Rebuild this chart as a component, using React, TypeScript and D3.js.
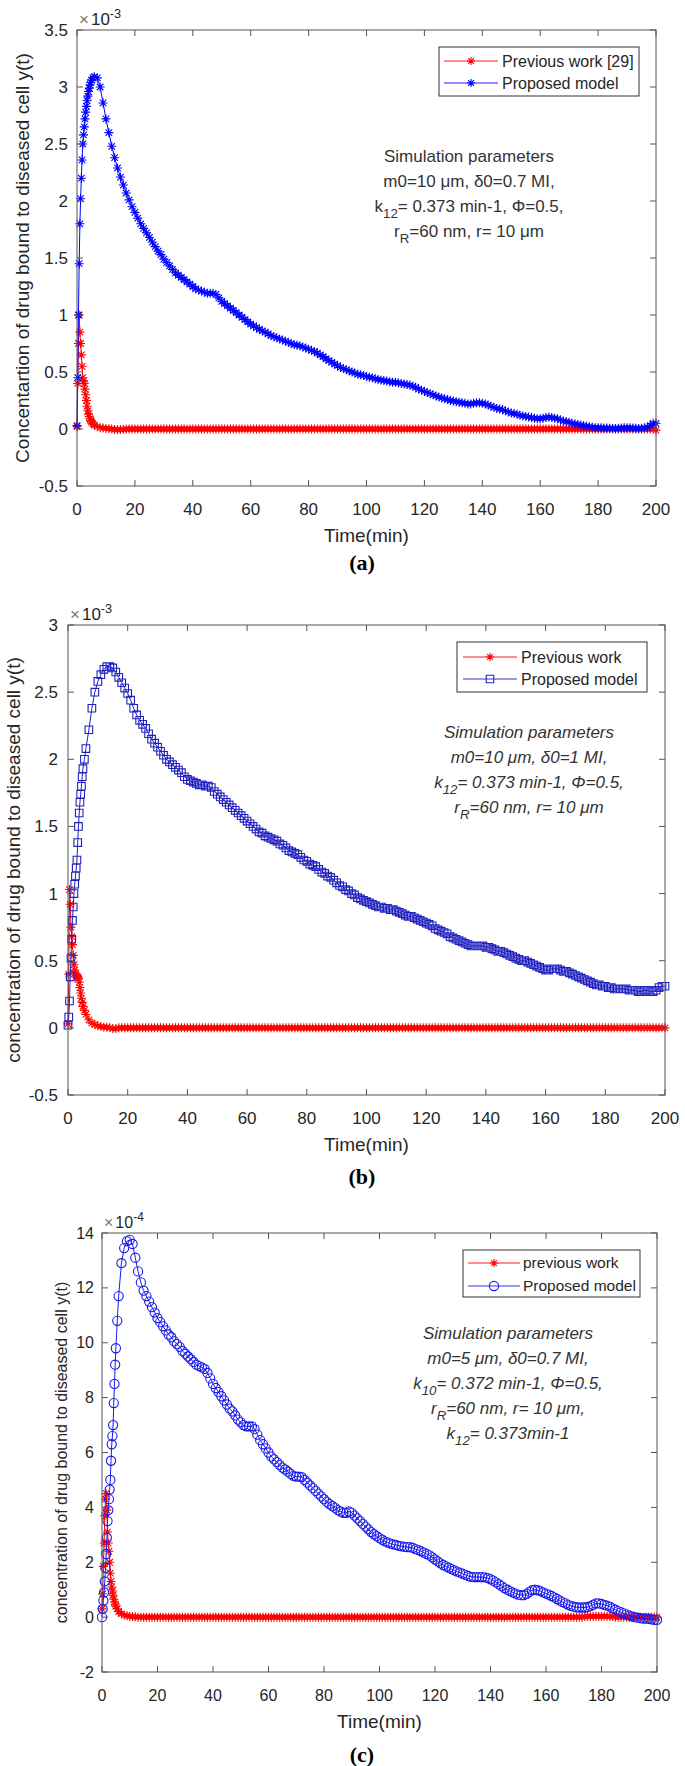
import React from 'react';
import * as d3 from 'd3';

// sample times (min)
const TIME = [0,0.25,0.5,0.75,1,1.25,1.5,1.75,2,2.25,2.5,2.75,3,3.25,3.5,3.75,4,4.25,4.5,4.75,5,5.5,
6,7,8,9,10,
11,12,13,14,15,16,17,18,19,20,
21,22,23,24,25,26,27,28,29,30,
31,32,33,34,35,36,37,38,39,40,
41,42,43,44,45,46,47,48,49,50,
51,52,53,54,55,56,57,58,59,60,
61,62,63,64,65,66,67,68,69,70,
71,72,73,74,75,76,77,78,79,80,
81,82,83,84,85,86,87,88,89,90,
91,92,93,94,95,96,97,98,99,100,
101,102,103,104,105,106,107,108,109,110,
111,112,113,114,115,116,117,118,119,120,
121,122,123,124,125,126,127,128,129,130,
131,132,133,134,135,136,137,138,139,140,
141,142,143,144,145,146,147,148,149,150,
151,152,153,154,155,156,157,158,159,160,
161,162,163,164,165,166,167,168,169,170,
171,172,173,174,175,176,177,178,179,180,
181,182,183,184,185,186,187,188,189,190,
191,192,193,194,195,196,197,198,199,200];

const X_TICKS = [0,20,40,60,80,100,120,140,160,180,200];
const A_Y_TICKS = [-0.5,0,0.5,1,1.5,2,2.5,3,3.5];
const B_Y_TICKS = [-0.5,0,0.5,1,1.5,2,2.5,3];
const C_Y_TICKS = [-2,0,2,4,6,8,10,12,14];

// Panel (a), values x 1e-3
const A_PROP = [0.03,0.45,1.0,1.45,1.8,2.02,2.2,2.36,2.5,2.58,2.65,2.72,2.78,2.83,2.88,2.92,2.96,2.99,3.02,3.04,3.06,3.08,
3.09,3.08,3.0,2.86,2.72,
2.6,2.48,2.38,2.29,2.21,2.14,2.07,2.01,1.95,1.9,
1.85,1.8,1.76,1.72,1.68,1.64,1.6,1.56,1.53,1.49,
1.46,1.43,1.4,1.37,1.35,1.33,1.31,1.29,1.27,1.25,
1.23,1.22,1.21,1.2,1.19,1.19,1.19,1.18,1.15,1.12,
1.1,1.08,1.06,1.04,1.02,1.0,0.98,0.96,0.94,0.92,
0.905,0.89,0.875,0.86,0.85,0.835,0.82,0.81,0.8,0.79,
0.78,0.77,0.76,0.75,0.74,0.735,0.73,0.72,0.71,0.7,
0.69,0.68,0.665,0.65,0.635,0.615,0.6,0.585,0.57,0.555,
0.54,0.53,0.52,0.51,0.5,0.49,0.48,0.475,0.47,0.46,
0.455,0.45,0.44,0.435,0.43,0.425,0.42,0.415,0.41,0.41,
0.405,0.4,0.395,0.39,0.385,0.375,0.365,0.35,0.34,0.33,
0.32,0.31,0.3,0.29,0.28,0.272,0.265,0.258,0.25,0.245,
0.24,0.235,0.23,0.225,0.22,0.22,0.225,0.23,0.23,0.225,
0.22,0.21,0.2,0.19,0.18,0.175,0.17,0.16,0.15,0.14,
0.135,0.13,0.12,0.115,0.11,0.105,0.1,0.095,0.09,0.09,
0.095,0.1,0.105,0.1,0.095,0.09,0.08,0.07,0.065,0.06,
0.05,0.045,0.04,0.035,0.03,0.025,0.02,0.015,0.012,0.01,
0.01,0.008,0.008,0.006,0.005,0.005,0.006,0.008,0.01,0.01,
0.01,0.008,0.006,0.005,0.006,0.01,0.015,0.03,0.05,0.05];

const A_PREV = [0.02,0.4,0.75,1.0,0.85,0.75,0.65,0.55,0.45,0.42,0.4,0.35,0.3,0.25,0.2,0.16,0.13,0.11,0.09,0.075,0.06,0.045,
0.035,0.02,0.012,0.008,0.005,
0.003,0,-0.005,-0.005,-0.005,-0.003,0,0,0,0,
0,0,0,0,0,0,0,0,0,0,
0,0,0,0,0,0,0,0,0,0,
0,0,0,0,0,0,0,0,0,0,
0,0,0,0,0,0,0,0,0,0,
0,0,0,0,0,0,0,0,0,0,
0,0,0,0,0,0,0,0,0,0,
0,0,0,0,0,0,0,0,0,0,
0,0,0,0,0,0,0,0,0,0,
0,0,0,0,0,0,0,0,0,0,
0,0,0,0,0,0,0,0,0,0,
0,0,0,0,0,0,0,0,0,0,
0,0,0,0,0,0,0,0,0,0,
0,0,0,0,0,0,0,0,0,0,
0,0,0,0,0,0,0,0,0,0,
0,0,0,0,0,0,0,0,0,0,
0,0,0,0,0,0,0,0,0,0,
0,0,0,0,0,0,0,0,0,0,
0,0,0,0,0,0,0,0,0,-0.01];

// Panel (b), values x 1e-3
const B_PROP = [0.02,0.08,0.2,0.38,0.52,0.66,0.8,0.9,1.0,1.07,1.13,1.19,1.25,1.38,1.5,1.6,1.68,1.74,1.8,1.87,1.93,2.0,
2.08,2.22,2.38,2.5,2.58,
2.63,2.67,2.69,2.69,2.68,2.65,2.61,2.57,2.53,2.49,
2.44,2.38,2.33,2.29,2.26,2.23,2.19,2.15,2.12,2.09,
2.06,2.03,2.0,1.98,1.96,1.94,1.92,1.9,1.87,1.85,
1.84,1.83,1.82,1.81,1.81,1.8,1.8,1.79,1.76,1.74,
1.72,1.7,1.68,1.66,1.64,1.62,1.6,1.58,1.56,1.54,
1.52,1.5,1.48,1.46,1.45,1.43,1.42,1.41,1.4,1.39,
1.37,1.36,1.34,1.32,1.31,1.3,1.29,1.27,1.25,1.24,
1.22,1.21,1.2,1.18,1.16,1.15,1.13,1.12,1.1,1.08,
1.06,1.05,1.03,1.02,1.0,0.99,0.97,0.96,0.95,0.94,
0.93,0.92,0.91,0.9,0.9,0.89,0.89,0.88,0.88,0.87,
0.86,0.85,0.84,0.83,0.83,0.82,0.81,0.8,0.79,0.78,
0.77,0.76,0.74,0.73,0.72,0.71,0.7,0.68,0.67,0.66,
0.65,0.64,0.63,0.62,0.61,0.61,0.61,0.61,0.61,0.6,
0.6,0.59,0.58,0.57,0.57,0.56,0.55,0.54,0.53,0.52,
0.51,0.5,0.5,0.49,0.48,0.47,0.46,0.45,0.44,0.43,
0.43,0.44,0.44,0.44,0.43,0.42,0.42,0.41,0.4,0.39,
0.38,0.37,0.36,0.35,0.34,0.33,0.32,0.32,0.31,0.31,
0.3,0.3,0.29,0.29,0.29,0.29,0.29,0.28,0.28,0.28,
0.27,0.27,0.28,0.28,0.27,0.27,0.28,0.3,0.31,0.31];

const B_PREV = [0.03,0.4,1.03,0.92,0.75,0.68,0.62,0.54,0.47,0.43,0.4,0.39,0.38,0.38,0.37,0.34,0.3,0.26,0.22,0.19,0.16,0.13,
0.1,0.06,0.035,0.025,0.015,
0.01,0.005,0.005,0,-0.005,-0.005,0,0,0,0,
0,0,0,0,0,0,0,0,0,0,
0,0,0,0,0,0,0,0,0,0,
0,0,0,0,0,0,0,0,0,0,
0,0,0,0,0,0,0,0,0,0,
0,0,0,0,0,0,0,0,0,0,
0,0,0,0,0,0,0,0,0,0,
0,0,0,0,0,0,0,0,0,0,
0,0,0,0,0,0,0,0,0,0,
0,0,0,0,0,0,0,0,0,0,
0,0,0,0,0,0,0,0,0,0,
0,0,0,0,0,0,0,0,0,0,
0,0,0,0,0,0,0,0,0,0,
0,0,0,0,0,0,0,0,0,0,
0,0,0,0,0,0,0,0,0,0,
0,0,0,0,0,0,0,0,0,0,
0,0,0,0,0,0,0,0,0,0,
0,0,0,0,0,0,0,0,0,0,
0,0,0,0,0,0,0,0,0,0];

// Panel (c), values x 1e-4
const C_PROP = [0.0,0.3,0.6,0.9,1.3,1.8,2.3,2.9,3.5,3.9,4.3,4.65,5.0,5.7,6.3,6.6,7.0,7.8,8.5,9.2,9.8,10.8,
11.7,12.9,13.45,13.7,13.75,
13.6,13.1,12.6,12.2,11.9,11.7,11.5,11.3,11.1,10.9,
10.75,10.6,10.45,10.3,10.2,10.05,9.95,9.85,9.7,9.6,
9.5,9.4,9.3,9.2,9.15,9.1,9.05,8.9,8.7,8.5,
8.35,8.2,8.05,7.9,7.75,7.6,7.5,7.35,7.2,7.1,
7.0,6.95,6.95,6.95,6.85,6.65,6.45,6.3,6.15,6.0,
5.85,5.75,5.65,5.55,5.45,5.38,5.3,5.22,5.15,5.12,
5.12,5.1,5.0,4.9,4.8,4.7,4.6,4.5,4.4,4.3,
4.2,4.12,4.05,3.98,3.9,3.85,3.8,3.8,3.85,3.8,
3.7,3.6,3.5,3.4,3.3,3.2,3.1,3.02,2.95,2.88,
2.82,2.76,2.72,2.68,2.65,2.63,2.6,2.58,2.56,2.55,
2.55,2.52,2.48,2.44,2.4,2.35,2.3,2.25,2.18,2.1,
2.03,1.96,1.9,1.85,1.8,1.75,1.7,1.66,1.62,1.58,
1.54,1.5,1.47,1.46,1.46,1.46,1.46,1.45,1.42,1.38,
1.33,1.27,1.2,1.13,1.06,1.0,0.95,0.9,0.86,0.82,
0.8,0.8,0.85,0.92,0.98,1.0,0.98,0.95,0.9,0.86,
0.82,0.77,0.72,0.66,0.6,0.55,0.5,0.45,0.41,0.38,
0.36,0.35,0.35,0.35,0.37,0.4,0.45,0.5,0.5,0.48,
0.45,0.42,0.38,0.32,0.27,0.22,0.18,0.14,0.1,0.06,
0.03,0,-0.02,-0.04,-0.05,-0.05,-0.06,-0.08,-0.1,-0.1];

const C_PREV = [0.3,0.85,1.85,2.7,3.7,4.3,4.5,3.9,3.1,2.7,2.4,2.0,1.6,1.3,1.1,0.95,0.8,0.65,0.55,0.47,0.4,0.3,
0.2,0.12,0.07,0.05,0.03,
0.02,0.01,0,0,0,0,0,0,0,0,
0,0,0,0,0,0,0,0,0,0,
0,0,0,0,0,0,0,0,0,0,
0,0,0,0,0,0,0,0,0,0,
0,0,0,0,0,0,0,0,0,0,
0,0,0,0,0,0,0,0,0,0,
0,0,0,0,0,0,0,0,0,0,
0,0,0,0,0,0,0,0,0,0,
0,0,0,0,0,0,0,0,0,0,
0,0,0,0,0,0,0,0,0,0,
0,0,0,0,0,0,0,0,0,0,
0,0,0,0,0,0,0,0,0,0,
0,0,0,0,0,0,0,0,0,0,
0,0,0,0,0,0,0,0,0,0,
0,0,0,0,0,0,0,0,0,0,
0,0,0,0,0,0,0,0,0,0,
0,0,0,0.02,0.03,0.03,0.03,0.03,0.03,0.03,
0.03,0.03,0.02,0.02,0,0,0,0,0,0,
0,0,0,0,0,0,0,0,0,0];

const A_LEGEND = ['Previous work [29]', 'Proposed model'];
const B_LEGEND = ['Previous work', 'Proposed model'];
const C_LEGEND = ['previous work', 'Proposed model'];

const A_NOTE = ['Simulation parameters', 'm0=10 μm, δ0=0.7 MI,', 'k_{12}= 0.373 min-1, Φ=0.5,', 'r_{R}=60 nm, r= 10 μm'];
const B_NOTE = ['Simulation parameters', 'm0=10 μm, δ0=1 MI,', 'k_{12}= 0.373 min-1, Φ=0.5,', 'r_{R}=60 nm, r= 10 μm'];
const C_NOTE = ['Simulation parameters', 'm0=5 μm, δ0=0.7 MI,', 'k_{10}= 0.372 min-1, Φ=0.5,', 'r_{R}=60 nm, r= 10 μm,', 'k_{12}= 0.373min-1'];

const RED = '#ff0000';
const INK = '#262626';
const AXIS = '#555555';
const SANS = '"Liberation Sans", Arial, Helvetica, sans-serif';
const SERIF = '"Liberation Serif", "Times New Roman", serif';

type MarkerKind = 'star' | 'square' | 'circle';

function markerD(kind: MarkerKind, cx: number, cy: number, r: number): string {
  if (kind === 'star') {
    const a = r * 0.72;
    return `M${cx - r},${cy}H${cx + r}M${cx},${cy - r}V${cy + r}M${cx - a},${cy - a}L${cx + a},${cy + a}M${cx - a},${cy + a}L${cx + a},${cy - a}`;
  }
  if (kind === 'square') {
    return `M${cx - r},${cy - r}h${2 * r}v${2 * r}h${-2 * r}Z`;
  }
  return `M${cx - r},${cy}a${r},${r} 0 1,0 ${2 * r},0a${r},${r} 0 1,0 ${-2 * r},0`;
}

function RichLine({ text, x, y, size, italic }: { text: string; x: number; y: number; size: number; italic: boolean }) {
  const parts: { s: string; sub: boolean }[] = [];
  const re = /_\{([^}]*)\}/g;
  let last = 0;
  let m: RegExpExecArray | null;
  while ((m = re.exec(text))) {
    if (m.index > last) parts.push({ s: text.slice(last, m.index), sub: false });
    parts.push({ s: m[1], sub: true });
    last = m.index + m[0].length;
  }
  if (last < text.length) parts.push({ s: text.slice(last), sub: false });
  let shifted = false;
  return (
    <text x={x} y={y} textAnchor="middle" dy="0.35em" fontSize={size} fontFamily={SANS} fontStyle={italic ? 'italic' : 'normal'} fill="#333">
      {parts.map((p, i) => {
        let dy = 0;
        if (p.sub && !shifted) { dy = 6; shifted = true; }
        else if (!p.sub && shifted) { dy = -6; shifted = false; }
        return (
          <tspan key={i} dy={dy} fontSize={p.sub ? size * 0.78 : size}>{p.s}</tspan>
        );
      })}
    </text>
  );
}

interface PanelProps {
  id: string;
  left: number; right: number; top: number; bottom: number;
  yDomain: [number, number]; yTicks: number[]; exp: string;
  prev: number[]; prop: number[]; propMarker: MarkerKind; markerR: number; blue: string;
  legend: string[]; legBox: [number, number, number, number]; legLine: [number, number]; legText: number; legRows: [number, number]; legSize: number;
  note: string[]; noteX: number; noteY: number; noteDy: number; noteItalic: boolean; noteSize: number;
  yLabel: string; yLabelX: number; yLabelSize: number; tickSize: number; tickGap: number;
  caption: string; captionY: number; captionX: number;
}

function Panel(p: PanelProps) {
  const x = d3.scaleLinear().domain([0, 200]).range([p.left, p.right]);
  const y = d3.scaleLinear().domain(p.yDomain).range([p.bottom, p.top]);
  const line = d3.line<number>().x((_, i) => x(TIME[i])).y((d) => y(d));
  const starR = 4.5;
  const prevMarks = p.prev.map((v, i) => markerD('star', x(TIME[i]), y(v), starR)).join('');
  const propR = p.propMarker === 'star' ? starR : p.markerR;
  const propMarks = p.prop.map((v, i) => markerD(p.propMarker, x(TIME[i]), y(v), propR)).join('');
  const tl = 6;
  const [lx, ly, lw, lh] = p.legBox;
  const legCx = (p.legLine[0] + p.legLine[1]) / 2;
  const midY = (p.top + p.bottom) / 2;
  return (
    <g>
      <defs>
        <clipPath id={`clip-${p.id}`}>
          <rect x={p.left - 5} y={p.top - 5} width={p.right - p.left + 10} height={p.bottom - p.top + 10} />
        </clipPath>
      </defs>
      <rect x={p.left} y={p.top} width={p.right - p.left} height={p.bottom - p.top} fill="#fff" />
      <g clipPath={`url(#clip-${p.id})`}>
        <path d={line(p.prev) || ''} fill="none" stroke={RED} strokeWidth={1} />
        <path d={prevMarks} fill="none" stroke={RED} strokeWidth={1.1} />
        <path d={line(p.prop) || ''} fill="none" stroke={p.blue} strokeWidth={1} />
        <path d={propMarks} fill="none" stroke={p.blue} strokeWidth={1.1} />
      </g>
      {/* axes box */}
      <rect x={p.left} y={p.top} width={p.right - p.left} height={p.bottom - p.top} fill="none" stroke={AXIS} strokeWidth={1} />
      {X_TICKS.map((t) => (
        <g key={`xt${t}`}>
          <line x1={x(t)} x2={x(t)} y1={p.bottom} y2={p.bottom - tl} stroke={AXIS} />
          <line x1={x(t)} x2={x(t)} y1={p.top} y2={p.top + tl} stroke={AXIS} />
          <text x={x(t)} y={p.bottom + 23} dy="0.35em" textAnchor="middle" fontSize={p.tickSize} fontFamily={SANS} fill={INK}>{t}</text>
        </g>
      ))}
      {p.yTicks.map((t) => (
        <g key={`yt${t}`}>
          <line x1={p.left} x2={p.left + tl} y1={y(t)} y2={y(t)} stroke={AXIS} />
          <line x1={p.right} x2={p.right - tl} y1={y(t)} y2={y(t)} stroke={AXIS} />
          <text x={p.left - p.tickGap} y={y(t)} dy="0.35em" textAnchor="end" fontSize={p.tickSize} fontFamily={SANS} fill={INK}>{String(t)}</text>
        </g>
      ))}
      {/* exponent */}
      <text x={p.left + 2} y={p.top - 5} fontSize={p.tickSize} fontFamily={SANS} fill={INK}>
        <tspan fill="#777">×</tspan>
        <tspan dx={2}>10</tspan>
        <tspan dy={-7} fontSize={p.tickSize * 0.75}>{p.exp}</tspan>
      </text>
      {/* axis labels */}
      <text x={(p.left + p.right) / 2} y={p.bottom + 49} dy="0.35em" textAnchor="middle" fontSize={19} fontFamily={SANS} fill={INK}>Time(min)</text>
      <text transform={`translate(${p.yLabelX},${midY}) rotate(-90)`} dy="0.35em" textAnchor="middle" fontSize={p.yLabelSize} fontFamily={SANS} fill={INK}>{p.yLabel}</text>
      {/* legend */}
      <rect x={lx} y={ly} width={lw} height={lh} fill="#fff" stroke="#333" strokeWidth={1} />
      {[0, 1].map((k) => {
        const yy = p.legRows[k];
        const col = k === 0 ? RED : p.blue;
        const kind: MarkerKind = k === 0 ? 'star' : p.propMarker;
        const r = k === 0 ? 4 : (p.propMarker === 'star' ? 4 : p.markerR);
        return (
          <g key={`lg${k}`}>
            <line x1={p.legLine[0]} x2={p.legLine[1]} y1={yy} y2={yy} stroke={col} strokeWidth={0.9} />
            <path d={markerD(kind, legCx, yy, r)} fill="none" stroke={col} strokeWidth={1.1} />
            <text x={p.legText} y={yy} dy="0.35em" fontSize={p.legSize} fontFamily={SANS} fill={INK}>{p.legend[k]}</text>
          </g>
        );
      })}
      {/* annotation */}
      {p.note.map((s, i) => (
        <RichLine key={`n${i}`} text={s} x={p.noteX} y={p.noteY + i * p.noteDy} size={p.noteSize} italic={p.noteItalic} />
      ))}
      {/* caption */}
      <text x={p.captionX} y={p.captionY} dy="0.35em" textAnchor="middle" fontSize={22} fontWeight="bold" fontFamily={SERIF} fill="#000">{p.caption}</text>
    </g>
  );
}

export default function App() {
  return (
    <svg width={685} height={1766} viewBox="0 0 685 1766" style={{ position: 'absolute', left: 0, top: 0, background: '#fff', display: 'block' }}>
      <rect x={0} y={0} width={685} height={1766} fill="#fff" />
      <Panel id="a" left={77} right={656} top={30} bottom={486}
        yDomain={[-0.5, 3.5]} yTicks={A_Y_TICKS} exp="-3"
        prev={A_PREV} prop={A_PROP} propMarker="star" markerR={4.5} blue="#0000ff"
        legend={A_LEGEND} legBox={[439, 47, 200, 49]} legLine={[444, 498]} legText={502} legRows={[61, 83]} legSize={16}
        note={A_NOTE} noteX={469} noteY={162} noteDy={25} noteItalic={false} noteSize={17}
        yLabel="Concentartion of drug bound to diseased cell y(t)" yLabelX={22} yLabelSize={19} tickSize={17} tickGap={9}
        caption="(a)" captionX={362} captionY={562} />
      <Panel id="b" left={68} right={665} top={625} bottom={1095}
        yDomain={[-0.5, 3]} yTicks={B_Y_TICKS} exp="-3"
        prev={B_PREV} prop={B_PROP} propMarker="square" markerR={3.8} blue="#2020c0"
        legend={B_LEGEND} legBox={[457, 642, 190, 50]} legLine={[463, 517]} legText={521} legRows={[657, 679]} legSize={16}
        note={B_NOTE} noteX={529} noteY={738} noteDy={25} noteItalic={true} noteSize={17}
        yLabel="concentration of drug bound to diseased cell y(t)" yLabelX={13} yLabelSize={19} tickSize={17} tickGap={10}
        caption="(b)" captionX={362} captionY={1176} />
      <Panel id="c" left={102} right={657} top={1233} bottom={1672}
        yDomain={[-2, 14]} yTicks={C_Y_TICKS} exp="-4"
        prev={C_PREV} prop={C_PROP} propMarker="circle" markerR={4.6} blue="#1a1aee"
        legend={C_LEGEND} legBox={[463, 1250, 177, 47]} legLine={[468, 520]} legText={523} legRows={[1263, 1286]} legSize={15.5}
        note={C_NOTE} noteX={508} noteY={1339} noteDy={25} noteItalic={true} noteSize={17}
        yLabel="concentration of drug bound to diseased cell y(t)" yLabelX={61} yLabelSize={16} tickSize={16} tickGap={8}
        caption="(c)" captionX={362} captionY={1754} />
    </svg>
  );
}
